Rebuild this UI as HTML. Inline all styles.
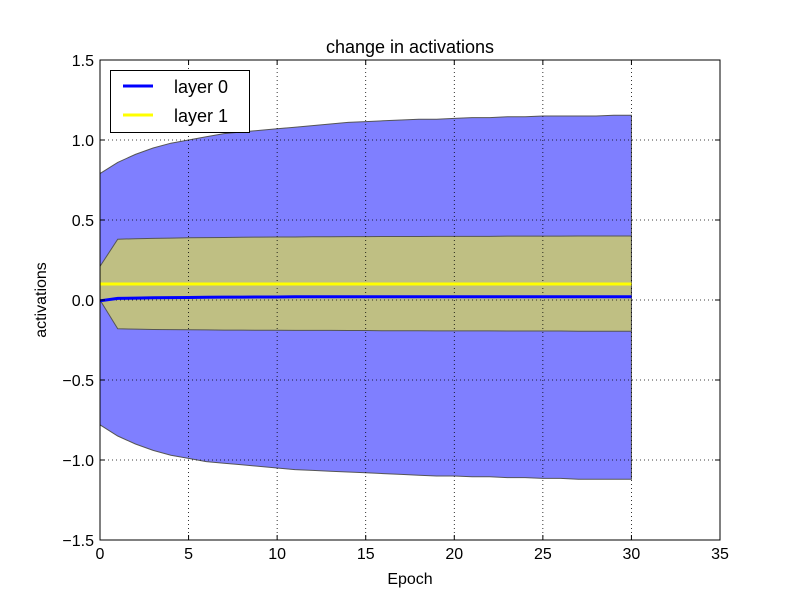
<!DOCTYPE html>
<html><head><meta charset="utf-8"><style>
body{margin:0;background:#fff;}
svg text{font-family:"Liberation Sans",sans-serif;}
</style></head><body>
<svg id="chart" width="800" height="600" xmlns="http://www.w3.org/2000/svg">
<rect width="800" height="600" fill="#fff"/>
<g id="bands"></g>
<g id="grid"></g>
<g id="lines"></g>
<rect x="100" y="60" width="620" height="480" fill="none" stroke="#000" stroke-width="1"/>
<g id="ticks"></g>
<text x="410" y="53" font-size="18" text-anchor="middle">change in activations</text>
<text x="410" y="584" font-size="16" text-anchor="middle">Epoch</text>
<text x="46" y="300" font-size="16" text-anchor="middle" transform="rotate(-90 46 300)">activations</text>
<g>
<rect x="110.5" y="70.5" width="139" height="62" fill="#fff" stroke="#000"/>
<line x1="123" y1="86" x2="153" y2="86" stroke="#0000ff" stroke-width="3"/>
<text x="174" y="93" font-size="18">layer 0</text>
<line x1="123" y1="115" x2="153" y2="115" stroke="#ffff00" stroke-width="3"/>
<text x="174" y="122" font-size="18">layer 1</text>
</g>
</svg>
<script>
const epochs=[0,1,2,3,4,5,6,7,8,9,10,11,12,13,14,15,16,17,18,19,20,21,22,23,24,25,26,27,28,29,30];
const upper0=[0.79,0.86,0.91,0.95,0.98,1.00,1.02,1.04,1.05,1.06,1.07,1.08,1.09,1.10,1.11,1.115,1.12,1.125,1.13,1.13,1.135,1.14,1.14,1.145,1.145,1.15,1.15,1.15,1.15,1.155,1.155];
const lower0=[-0.78,-0.85,-0.90,-0.94,-0.97,-0.99,-1.01,-1.02,-1.03,-1.04,-1.05,-1.06,-1.065,-1.07,-1.075,-1.08,-1.085,-1.09,-1.095,-1.10,-1.10,-1.105,-1.105,-1.11,-1.11,-1.115,-1.115,-1.12,-1.12,-1.12,-1.12];
const mean0=[-0.005,0.01,0.012,0.014,0.015,0.016,0.017,0.018,0.018,0.019,0.019,0.02,0.02,0.02,0.02,0.02,0.02,0.02,0.02,0.02,0.02,0.02,0.02,0.02,0.02,0.02,0.02,0.02,0.02,0.02,0.02];
const upper1=[0.21,0.38,0.383,0.385,0.387,0.389,0.39,0.391,0.392,0.393,0.394,0.394,0.395,0.395,0.396,0.396,0.397,0.397,0.397,0.398,0.398,0.398,0.398,0.399,0.399,0.399,0.399,0.4,0.4,0.4,0.4];
const lower1=[0.0,-0.18,-0.182,-0.184,-0.185,-0.186,-0.187,-0.188,-0.188,-0.189,-0.189,-0.19,-0.19,-0.19,-0.191,-0.191,-0.192,-0.192,-0.192,-0.193,-0.193,-0.193,-0.193,-0.194,-0.194,-0.194,-0.194,-0.195,-0.195,-0.195,-0.195];
const mean1=[0.1,0.1,0.1,0.1,0.1,0.1,0.1,0.1,0.1,0.1,0.1,0.1,0.1,0.1,0.1,0.1,0.1,0.1,0.1,0.1,0.1,0.1,0.1,0.1,0.1,0.1,0.1,0.1,0.1,0.1,0.1];
const xTicks=[0,5,10,15,20,25,30,35];
const yTicks=[1.5,1.0,0.5,0.0,-0.5,-1.0,-1.5];
const yLabels=["1.5","1.0","0.5","0.0","\u22120.5","\u22121.0","\u22121.5"];

const NS="http://www.w3.org/2000/svg";
const X=v=>100+v*620/35, Y=v=>300-v*160;
function mk(t,a,p){const e=document.createElementNS(NS,t);for(const k in a)e.setAttribute(k,a[k]);p.appendChild(e);return e;}
const bands=document.getElementById('bands'),grid=document.getElementById('grid'),lines=document.getElementById('lines'),ticks=document.getElementById('ticks');
function band(up,lo,fill,name){
  let pts=epochs.map((e,i)=>X(e)+','+Y(up[i]));
  for(let i=epochs.length-1;i>=0;i--)pts.push(X(epochs[i])+','+Y(lo[i]));
  const p=mk('polygon',{points:pts.join(' '),fill:fill,stroke:'#555','stroke-width':1},bands);
  
  
}
band(upper0,lower0,'rgba(0,0,255,0.5)','band-layer0');
band(upper1,lower1,'#bfbf83','band-layer1');
xTicks.forEach(t=>{
  const x=X(t);
  if(t>0&&t<35){const g=mk('line',{x1:x,y1:60,x2:x,y2:540,stroke:'#000','stroke-dasharray':'1,3','stroke-width':0.8},grid);
  }
  mk('line',{x1:x,y1:540,x2:x,y2:535,stroke:'#000'},ticks);
  mk('line',{x1:x,y1:60,x2:x,y2:65,stroke:'#000'},ticks);
  const tx=mk('text',{x:x,y:559,'font-size':16,'text-anchor':'middle'},ticks);tx.textContent=t;
  
});
yTicks.forEach((t,i)=>{
  const y=Y(t);
  if(t<1.5&&t>-1.5){const g=mk('line',{x1:100,y1:y,x2:720,y2:y,stroke:'#000','stroke-dasharray':'1,3','stroke-width':0.8},grid);
  }
  mk('line',{x1:100,y1:y,x2:105,y2:y,stroke:'#000'},ticks);
  mk('line',{x1:720,y1:y,x2:715,y2:y,stroke:'#000'},ticks);
  const tx=mk('text',{x:94,y:y+6,'font-size':16,'text-anchor':'end'},ticks);tx.textContent=yLabels[i];
  
});
function line(vals,color,name){
  const l=mk('polyline',{points:epochs.map((e,i)=>X(e)+','+Y(vals[i])).join(' '),fill:'none',stroke:color,'stroke-width':3},lines);
  
  
}
line(mean1,'#ffff00','line-layer1');
line(mean0,'#0000ff','line-layer0');
</script>
</body></html>
